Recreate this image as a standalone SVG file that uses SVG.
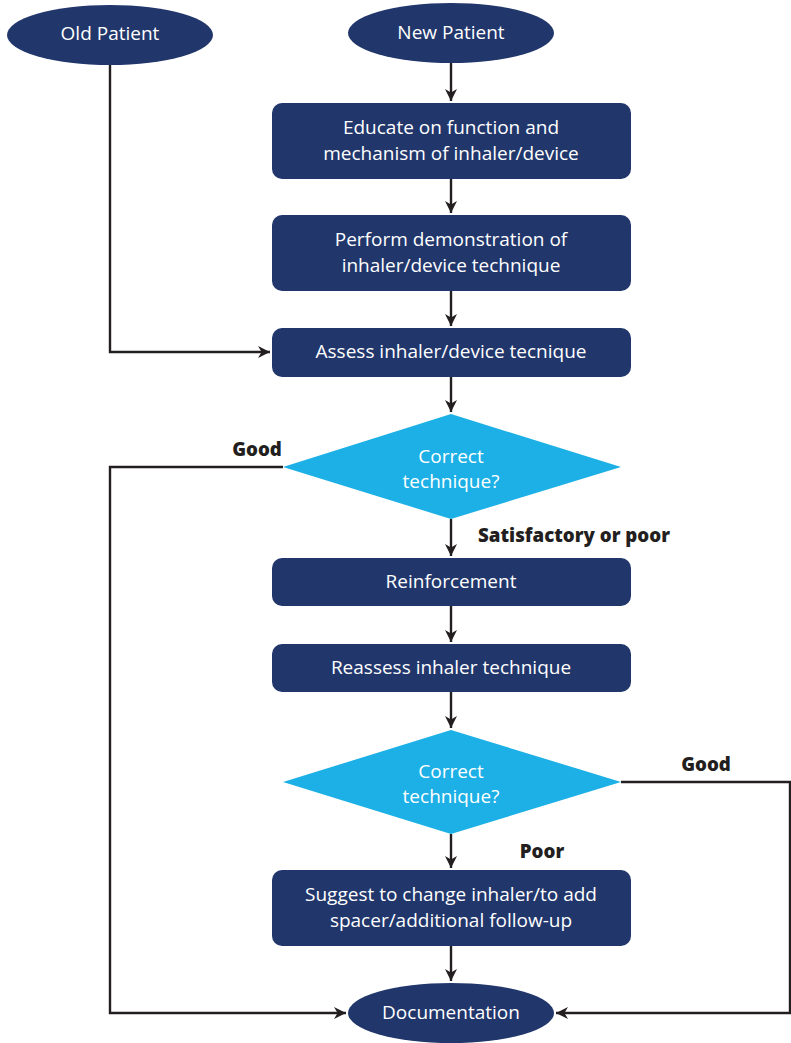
<svg xmlns="http://www.w3.org/2000/svg" width="791" height="1043" viewBox="0 0 791 1043">
<defs>
<style>
.n{fill:#21366b}
.d{fill:#1cb0e6}
.t{font-family:"Open Sans","Noto Sans",sans-serif;font-size:19px;fill:#ffffff;text-anchor:middle}
.l{font-family:"Open Sans","Noto Sans",sans-serif;font-weight:800;font-size:18.7px;fill:#231f20}
.c{fill:none;stroke:#231f20;stroke-width:2.4}
</style>
<marker id="a" viewBox="0 0 10 10" refX="10" refY="5" markerWidth="12" markerHeight="12" markerUnits="userSpaceOnUse" orient="auto">
<path d="M0,0 L10,5 L0,10 L3,5 Z" fill="#231f20"/>
</marker>
</defs>
<rect width="791" height="1043" fill="#ffffff"/>
<g id="connectors">
<path class="c" d="M110,65 V352 H270" marker-end="url(#a)"/>
<path class="c" d="M451,63 V101" marker-end="url(#a)"/>
<path class="c" d="M451,179 V213" marker-end="url(#a)"/>
<path class="c" d="M451,291 V326" marker-end="url(#a)"/>
<path class="c" d="M451,377 V412" marker-end="url(#a)"/>
<path class="c" d="M451,519 V556" marker-end="url(#a)"/>
<path class="c" d="M451,606 V642" marker-end="url(#a)"/>
<path class="c" d="M451,692 V728" marker-end="url(#a)"/>
<path class="c" d="M451,834 V868" marker-end="url(#a)"/>
<path class="c" d="M451,946 V981" marker-end="url(#a)"/>
<path class="c" d="M283,467 H110 V1013 H346" marker-end="url(#a)"/>
<path class="c" d="M621,782 H790 V1013 H556" marker-end="url(#a)"/>
<text class="l" x="257" y="456" text-anchor="middle">Good</text>
<text class="l" x="574" y="542" text-anchor="middle">Satisfactory or poor</text>
<text class="l" x="706" y="771" text-anchor="middle">Good</text>
<text class="l" x="542" y="858" text-anchor="middle">Poor</text>
</g>
<g id="old-patient"><ellipse class="n" cx="110" cy="35" rx="103" ry="30"/><text class="t" x="110" y="40">Old Patient</text></g>
<g id="new-patient"><ellipse class="n" cx="451" cy="33" rx="103" ry="30"/><text class="t" x="451" y="39">New Patient</text></g>
<g id="educate"><rect class="n" x="272" y="103" width="359" height="76" rx="10"/><text class="t" x="451" y="134">Educate on function and</text><text class="t" x="451" y="160">mechanism of inhaler/device</text></g>
<g id="demonstrate"><rect class="n" x="272" y="215" width="359" height="76" rx="10"/><text class="t" x="451" y="246">Perform demonstration of</text><text class="t" x="451" y="272">inhaler/device technique</text></g>
<g id="assess"><rect class="n" x="272" y="328" width="359" height="49" rx="10"/><text class="t" x="451" y="358">Assess inhaler/device tecnique</text></g>
<g id="decision1"><polygon class="d" points="451,414 621,467 451,519 283,467"/><text class="t" x="451" y="463">Correct</text><text class="t" x="451" y="488">technique?</text></g>
<g id="reinforcement"><rect class="n" x="272" y="558" width="359" height="48" rx="10"/><text class="t" x="451" y="588">Reinforcement</text></g>
<g id="reassess"><rect class="n" x="272" y="644" width="359" height="48" rx="10"/><text class="t" x="451" y="674">Reassess inhaler technique</text></g>
<g id="decision2"><polygon class="d" points="451,730 621,782 451,834 283,782"/><text class="t" x="451" y="778">Correct</text><text class="t" x="451" y="803">technique?</text></g>
<g id="suggest"><rect class="n" x="272" y="870" width="359" height="76" rx="10"/><text class="t" x="451" y="901">Suggest to change inhaler/to add</text><text class="t" x="451" y="927">spacer/additional follow-up</text></g>
<g id="documentation"><ellipse class="n" cx="451" cy="1013" rx="103" ry="30"/><text class="t" x="451" y="1019">Documentation</text></g>
</svg>
